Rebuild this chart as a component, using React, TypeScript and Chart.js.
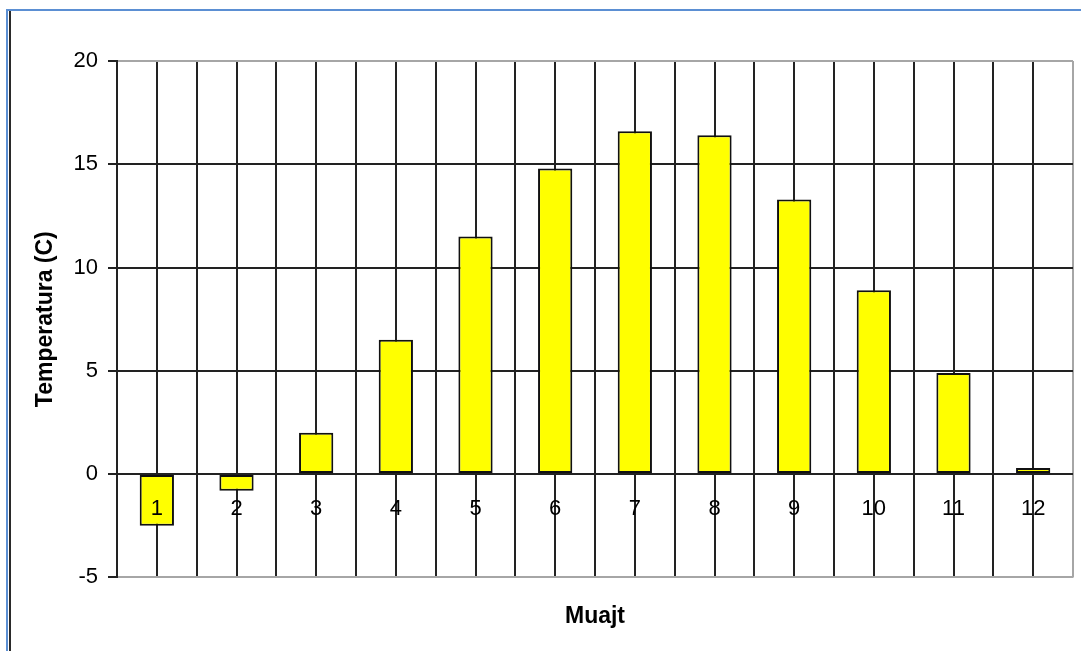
import React, { useEffect, useRef } from "react";
import { Chart, registerables } from "chart.js";

Chart.register(...registerables);

const months = ["1", "2", "3", "4", "5", "6", "7", "8", "9", "10", "11", "12"];
const temperatures = [-2.5, -0.8, 2.0, 6.5, 11.5, 14.8, 16.6, 16.4, 13.3, 8.9, 4.9, 0.3];
const yTicks = [-5, 0, 5, 10, 15, 20];

const FONT = "'Liberation Sans', Arial, sans-serif";
const GRID = "#222222";
const EDGE = "#a6a6a6";

export default function App() {
  const ref = useRef<HTMLCanvasElement | null>(null);

  useEffect(() => {
    if (!ref.current) return;
    const chart = new Chart(ref.current, {
      type: "bar",
      data: {
        labels: months,
        datasets: [
          {
            data: temperatures,
            backgroundColor: "#ffff00",
            borderColor: "#111111",
            borderWidth: 2,
            borderSkipped: false,
            barPercentage: 0.43,
            categoryPercentage: 1.0,
            xAxisID: "x",
          },
        ],
      },
      options: {
        responsive: false,
        animation: false,
        devicePixelRatio: 1,
        layout: { padding: { left: 0, top: 61, right: 8, bottom: 21 } },
        plugins: {
          legend: { display: false },
          tooltip: { enabled: false },
          title: {
            display: true,
            text: "Muajt",
            position: "bottom",
            fullSize: false,
            color: "#000",
            font: { family: FONT, size: 23, weight: "bold" },
            padding: { top: 25, bottom: 0 },
          },
        },
        scales: {
          x: {
            type: "category",
            position: { y: 0 } as any,
            offset: true,
            grid: {
              offset: false,
              color: GRID,
              lineWidth: 2,
              drawTicks: false,
            },
            border: { display: false },
            ticks: {
              color: "#000",
              font: { family: FONT, size: 22 },
              padding: 22,
              z: 1,
              maxRotation: 0,
              autoSkip: false,
            },
          },
          x2: {
            type: "category",
            position: { y: 0 } as any,
            offset: true,
            grid: {
              offset: true,
              color: (ctx: any) => (ctx.type === "tick" ? GRID : EDGE),
              lineWidth: 2,
              drawTicks: false,
            },
            border: { display: false },
            ticks: { display: false },
          },
          y: {
            min: -5,
            max: 20,
            afterFit: (scale: any) => {
              scale.width = 117;
            },
            afterBuildTicks: (scale: any) => {
              scale.ticks = yTicks.map((v) => ({ value: v }));
            },
            grid: {
              color: (ctx: any) =>
                ctx.tick && (ctx.tick.value === 20 || ctx.tick.value === -5) ? EDGE : GRID,
              lineWidth: 2,
              tickColor: GRID,
              tickLength: 9,
            },
            border: { display: true, color: GRID, width: 2 },
            ticks: {
              color: "#000",
              font: { family: FONT, size: 22 },
              padding: 10,
            },
            title: {
              display: true,
              text: "Temperatura (C)",
              color: "#000",
              font: { family: FONT, size: 23, weight: "bold" },
              padding: { top: 32, bottom: 0 },
            },
          },
        },
      } as any,
    });
    return () => chart.destroy();
  }, []);

  return (
    <div style={{ position: "fixed", left: 0, top: 0, width: 1081, height: 651, background: "#fff", overflow: "hidden" }}>
      <canvas ref={ref} width={1081} height={651} style={{ display: "block", width: 1081, height: 651 }} />
      <div style={{ position: "absolute", left: 6, top: 9, width: 1075, height: 2, background: "#5b8fd3", pointerEvents: "none" }} />
      <div style={{ position: "absolute", left: 6, top: 9, width: 2, height: 642, background: "#5b8fd3", pointerEvents: "none" }} />
      <div style={{ position: "absolute", left: 9, top: 11, width: 2, height: 640, background: "#2a2a2a", pointerEvents: "none" }} />
    </div>
  );
}
